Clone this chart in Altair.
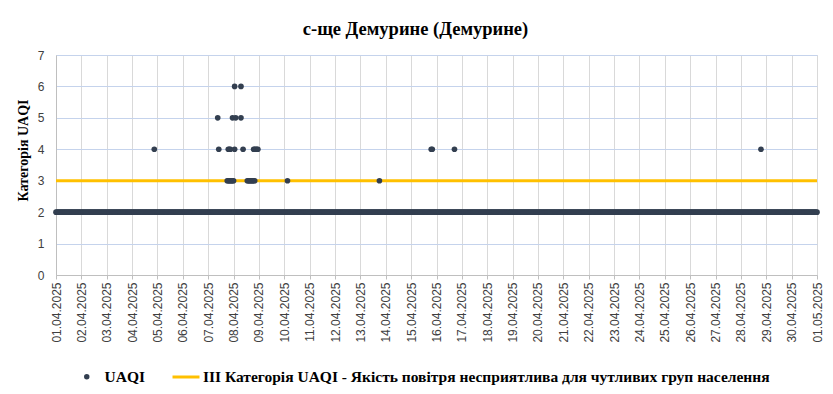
import altair as alt
import pandas as pd

# ---- data ----
title_text = "с-ще Демурине (Демурине)"
y_title = "Категорія UAQI"
series_name = "UAQI"
threshold_name = "III Категорія UAQI - Якість повітря несприятлива для чутливих груп населення"

start = "2025-04-01 00:00"
end = "2025-05-01 00:00"
base_value = 2          # hourly UAQI category drawn for every hour of the month
threshold_value = 3

exc_times = [
    "2025-04-04 21:00",
    "2025-04-07 09:00", "2025-04-07 10:00",
    "2025-04-07 18:00", "2025-04-07 19:00", "2025-04-07 20:00", "2025-04-07 21:00",
    "2025-04-07 22:00", "2025-04-07 23:00", "2025-04-08 00:00",
    "2025-04-07 19:00", "2025-04-07 20:00", "2025-04-07 21:00",
    "2025-04-07 23:00", "2025-04-08 02:00",
    "2025-04-08 01:00", "2025-04-08 07:00",
    "2025-04-08 07:00", "2025-04-08 01:00", "2025-04-08 09:00",
    "2025-04-08 13:00", "2025-04-08 14:00", "2025-04-08 15:00", "2025-04-08 16:00",
    "2025-04-08 17:00", "2025-04-08 18:00", "2025-04-08 19:00", "2025-04-08 20:00",
    "2025-04-08 19:00", "2025-04-08 20:00", "2025-04-08 21:00", "2025-04-08 22:00", "2025-04-08 23:00",
    "2025-04-10 03:00",
    "2025-04-13 18:00",
    "2025-04-15 19:00", "2025-04-15 20:00",
    "2025-04-16 17:00",
    "2025-04-28 19:00",
]
exc_values = [
    4,
    5, 4,
    3, 3, 3, 3,
    3, 3, 3,
    4, 4, 4,
    5, 5,
    6, 6,
    5, 4, 4,
    3, 3, 3, 3,
    3, 3, 3, 3,
    4, 4, 4, 4, 4,
    3,
    3,
    4, 4,
    4,
    4,
]

day_labels = list(range(1, 31))

# ---- build tables ----
hours = pd.date_range(start, end, freq="h")
exc_idx = pd.to_datetime(exc_times)
rows = [(t, base_value) for t in hours]
rows += list(zip(exc_idx, exc_values))
pts = pd.DataFrame(rows, columns=["t", "v"])
pts["t"] = pts["t"].dt.strftime("%Y-%m-%dT%H:%M:%S")
pts["s"] = series_name

fmt = "%Y-%m-%dT%H:%M:%S"
line_df = pd.DataFrame({
    "t": [pd.Timestamp(start).strftime(fmt), pd.Timestamp(end).strftime(fmt)],
    "v": [threshold_value, threshold_value],
    "s": [threshold_name, threshold_name],
})

tick_vals = [alt.DateTime(year=2025, month=4, date=d) for d in day_labels] + [alt.DateTime(year=2025, month=5, date=1)]

x_scale = alt.Scale(domain=[alt.DateTime(year=2025, month=4, date=1), alt.DateTime(year=2025, month=5, date=1)], nice=False)
y_scale = alt.Scale(domain=[0, 7], nice=False)

x_axis = alt.Axis(values=tick_vals, format="%d.%m.%Y", labelAngle=-90, title=None,
                  labelFont="Liberation Sans", labelFontSize=12, labelColor="#404040",
                  gridColor="#D9D9D9", domainColor="#BFBFBF", ticks=True, tickColor="#BFBFBF",
                  tickSize=4, labelPadding=3, labelOverlap=False, labelFlush=False)
y_axis = alt.Axis(values=list(range(0, 8)), title=y_title, titleFont="Liberation Serif",
                  titleFontSize=14, titleFontWeight="bold", titleColor="#000000",
                  titleX=-26, titleY=95, titleBaseline="bottom", titleAngle=-90,
                  labelFont="Liberation Sans", labelFontSize=12, labelColor="#404040",
                  labelOverlap=False,
                  gridColor="#C5D3EC", domainColor="#BFBFBF", ticks=False, labelPadding=12)

legend_font = dict(labelFont="Liberation Serif", labelFontSize=15.5,
                   labelFontWeight="bold", labelColor="#000000", labelLimit=0)

points = alt.Chart(pts).mark_point(filled=True, size=32, opacity=1, shape="circle").encode(
    x=alt.X("t:T", scale=x_scale, axis=x_axis),
    y=alt.Y("v:Q", scale=y_scale, axis=y_axis),
    color=alt.Color("s:N", scale=alt.Scale(domain=[series_name], range=["#333F50"]),
                    legend=alt.Legend(title=None, orient="none", legendX=23, legendY=314,
                                      symbolSize=30, symbolType="circle", labelOffset=10,
                                      **legend_font)),
)

thr = alt.Chart(line_df).mark_line(strokeWidth=3).encode(
    x=alt.X("t:T", scale=x_scale, axis=x_axis),
    y=alt.Y("v:Q", scale=y_scale, axis=y_axis),
    stroke=alt.Stroke("s:N", scale=alt.Scale(domain=[threshold_name], range=["#FFC000"]),
                      legend=alt.Legend(title=None, orient="none", legendX=115, legendY=307,
                                        symbolType="stroke", symbolSize=729, symbolStrokeWidth=3,
                                        labelOffset=2, **legend_font)),
)

chart = alt.layer(thr, points).resolve_scale(color="independent").properties(
    width=761, height=220,
    title=alt.TitleParams(title_text, font="Liberation Serif", fontSize=18.5, fontWeight="bold",
                          color="#000000", dx=-21, offset=11),
    autosize=alt.AutoSizeParams(type="none"),
    padding={"left": 48, "top": 47, "right": 8, "bottom": 111},
).configure_view(stroke=None).configure(background="#FFFFFF")

chart.save("out.html", embed_options={"renderer": "svg", "actions": False})
